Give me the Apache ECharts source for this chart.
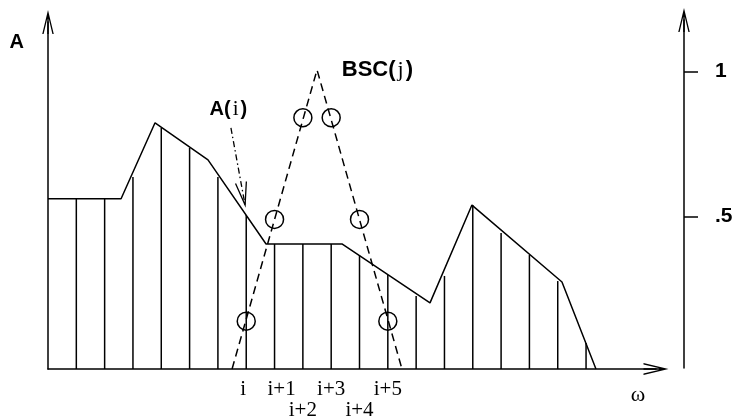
<!DOCTYPE html>
<html>
<head>
<meta charset="utf-8">
<script src="https://cdn.jsdelivr.net/npm/echarts@6/dist/echarts.min.js"></script>
<style>
  html, body { margin: 0; padding: 0; background: #fff; }
  #chart { width: 735px; height: 418px; }
</style>
</head>
<body>
<div id="chart"></div>
<script>
// Sample positions (stem index k along ω) and the sampled amplitudes A(k)
const stemIndex  = [1, 2, 3, 4, 5, 6, 7, 8, 9, 10, 11, 12, 13, 14, 15, 16, 17, 18, 19];
const stemHeight = [0.569, 0.569, 0.642, 0.806, 0.739, 0.642, 0.515, 0.418, 0.418, 0.418,
                    0.380, 0.314, 0.244, 0.311, 0.548, 0.455, 0.381, 0.294, 0.087];

// Break points of the continuous amplitude envelope A(ω)
const envelopeK = [0, 2.58, 3.78, 5.65, 7.70, 10.38, 13.49, 14.97, 18.15, 19.35];
const envelopeA = [0.569, 0.569, 0.823, 0.699, 0.418, 0.418, 0.221, 0.548, 0.291, 0];

// Triangular basis function BSC(j)
const bscK = [6.5, 9.5, 12.5];
const bscA = [0, 1, 0];

// BSC(j) evaluated at the stems i .. i+5
const sampleK = [7, 8, 9, 10, 11, 12];
const sampleA = [0.16, 0.5, 0.84, 0.84, 0.5, 0.16];
const sampleLabels = ['i', 'i+1', 'i+2', 'i+3', 'i+4', 'i+5'];

// Scale of the right-hand axis
const rightTicks = [0.5, 1];
const rightTickLabels = ['.5', '1'];

const SANS = '"Liberation Sans", Arial, Helvetica, sans-serif';
const SERIF = '"Liberation Serif", "Times New Roman", serif';

// Open arrow head (pointing up) with a short shaft, used at the axis ends
const arrowHead = 'path://M0,250L60,0L120,250L106,250L60,58L14,250Z M52.5,58L67.5,58L67.5,250L52.5,250Z';

// Tick-label styles (plain, and nudged a little left or right)
const tickRich = {
  a:  { fontFamily: SERIF, fontSize: 21, color: '#000', lineHeight: 21, padding: [0, 6, 0, 0] },
  b:  { fontFamily: SERIF, fontSize: 21, color: '#000', lineHeight: 21, padding: [0, 0, 0, 14] },
  c:  { fontFamily: SERIF, fontSize: 21, color: '#000', lineHeight: 21 }
};
const tickStyle = ['a', 'b', 'c', 'c', 'c', 'c'];

const chart = echarts.init(document.getElementById('chart'), null, { renderer: 'canvas' });

const option = {
  animation: false,
  backgroundColor: '#fff',
  grid: [
    { left: 48, right: 79, top: 22, bottom: 49, containLabel: false, outerBoundsMode: 'none' },
    { left: 684, width: 20, top: 20, bottom: 50, containLabel: false, outerBoundsMode: 'none' }
  ],
  xAxis: [
    {
      type: 'value', gridIndex: 0, min: 0, max: 21.47,
      name: 'ω', nameLocation: 'end', nameGap: -18,
      nameTextStyle: { fontFamily: SERIF, fontSize: 22, color: '#000',
                       align: 'center', verticalAlign: 'top', padding: [15, 0, 0, 0] },
      axisLine: { show: true, lineStyle: { color: '#000', width: 1.5 },
                  symbol: ['none', arrowHead], symbolSize: [13, 25] },
      axisTick: { show: false },
      splitLine: { show: false },
      axisLabel: {
        show: true, customValues: sampleK, margin: 10, hideOverlap: false,
        fontFamily: SERIF, fontSize: 21, lineHeight: 21, color: '#000',
        rich: tickRich,
        formatter: function (v) {
          const idx = sampleK.indexOf(v);
          if (idx < 0) return '';
          const txt = '{' + tickStyle[idx] + '|' + sampleLabels[idx] + '}';
          return (idx === 2 || idx === 4) ? '{c| }\n' + txt : txt;
        }
      }
    },
    { type: 'value', gridIndex: 1, show: false, min: 0, max: 1 }
  ],
  yAxis: [
    {
      type: 'value', gridIndex: 0, min: 0, max: 1.16,
      name: 'A', nameLocation: 'end', nameGap: -20.5,
      nameTextStyle: { fontFamily: SANS, fontWeight: 'bold', fontSize: 20, color: '#000',
                       align: 'right', verticalAlign: 'middle', padding: [0, 24, 0, 0] },
      axisLine: { show: true, onZero: false, lineStyle: { color: '#000', width: 1.5 },
                  symbol: ['none', arrowHead], symbolSize: [12, 24] },
      axisTick: { show: false },
      axisLabel: { show: false },
      splitLine: { show: false }
    },
    {
      type: 'value', gridIndex: 1, position: 'left', min: -0.0224, max: 1.178,
      axisLine: { show: true, onZero: false, lineStyle: { color: '#000', width: 1.5 },
                  symbol: ['none', arrowHead], symbolSize: [12, 24] },
      axisTick: { show: true, inside: true, length: 14, customValues: rightTicks,
                  lineStyle: { color: '#000', width: 1.5 } },
      axisLabel: {
        show: true, inside: true, margin: 31, customValues: rightTicks, hideOverlap: false,
        showMinLabel: true, showMaxLabel: true,
        fontFamily: SANS, fontWeight: 'bold', fontSize: 21, color: '#000',
        formatter: function (v) {
          const idx = rightTicks.indexOf(v);
          return idx < 0 ? '' : rightTickLabels[idx];
        }
      },
      splitLine: { show: false }
    }
  ],
  series: [
    {
      // sample stems from the ω axis up to A(k)
      name: 'stems', type: 'custom', xAxisIndex: 0, yAxisIndex: 0,
      data: stemIndex.map((k, i) => [k, stemHeight[i]]),
      encode: { x: 0, y: 1 },
      renderItem: function (params, api) {
        const k = api.value(0), v = api.value(1);
        const p0 = api.coord([k, 0]);
        const p1 = api.coord([k, v]);
        return {
          type: 'line',
          shape: { x1: p0[0], y1: p0[1], x2: p1[0], y2: p1[1] },
          style: { stroke: '#000', lineWidth: 1.5 }
        };
      },
      z: 2
    },
    {
      name: 'A', type: 'line', xAxisIndex: 0, yAxisIndex: 0,
      data: envelopeK.map((k, i) => [k, envelopeA[i]]),
      showSymbol: false, symbol: 'none',
      lineStyle: { color: '#000', width: 1.5 },
      z: 3
    },
    {
      name: 'BSC', type: 'line', xAxisIndex: 0, yAxisIndex: 0,
      data: bscK.map((k, i) => [k, bscA[i]]),
      showSymbol: false, symbol: 'none',
      lineStyle: { color: '#000', width: 1.5, type: [8, 5] },
      z: 3
    },
    {
      name: 'BSC samples', type: 'scatter', xAxisIndex: 0, yAxisIndex: 0,
      data: sampleK.map((k, i) => [k, sampleA[i]]),
      symbol: 'circle', symbolSize: 18,
      itemStyle: { color: 'rgba(0,0,0,0)', borderColor: '#000', borderWidth: 1.5, opacity: 1 },
      z: 4
    },
    {
      // dash-dot pointer from the A(i) label to the curve
      name: 'pointer', type: 'custom', xAxisIndex: 0, yAxisIndex: 0,
      data: [[6.46, 0.806, 6.96, 0.548]],
      renderItem: function (params, api) {
        const a = api.coord([api.value(0), api.value(1)]);
        const b = api.coord([api.value(2), api.value(3)]);
        const dx = b[0] - a[0], dy = b[1] - a[1];
        const len = Math.sqrt(dx * dx + dy * dy);
        const ux = dx / len, uy = dy / len;
        const back = 23, half = 5.5;
        const l = [b[0] - ux * back - uy * half, b[1] - uy * back + ux * half];
        const r = [b[0] - ux * back + uy * half, b[1] - uy * back - ux * half];
        return {
          type: 'group',
          children: [
            { type: 'line', shape: { x1: a[0], y1: a[1], x2: b[0], y2: b[1] },
              style: { stroke: '#000', lineWidth: 1.3, lineDash: [6, 3, 1.5, 3] } },
            { type: 'polyline', shape: { points: [l, b, r] },
              style: { stroke: '#000', lineWidth: 1.3, fill: null } }
          ]
        };
      },
      z: 5
    },
    {
      name: 'names', type: 'scatter', xAxisIndex: 0, yAxisIndex: 0,
      symbolSize: 1, itemStyle: { color: 'rgba(0,0,0,0)', opacity: 1 },
      data: [
        { value: [6.37, 0.867],
          label: { formatter: '{s|A(}{r|i}{s|)}',
                   rich: { s: { fontFamily: SANS, fontWeight: 'bold', fontSize: 20, color: '#000' },
                           r: { fontFamily: SERIF, fontSize: 21, color: '#000', padding: [0, 2, 0, 2] } } } },
        { value: [11.63, 1.0],
          label: { formatter: '{s|BSC(}{r|j}{s|)}',
                   rich: { s: { fontFamily: SANS, fontWeight: 'bold', fontSize: 22, color: '#000' },
                           r: { fontFamily: SERIF, fontSize: 22, color: '#000', padding: [0, 2, 0, 2] } } } }
      ],
      label: { show: true, position: 'inside', opacity: 1, textBorderWidth: 0 },
      emphasis: { disabled: true },
      z: 6
    }
  ]
};

chart.setOption(option);
</script>
</body>
</html>
